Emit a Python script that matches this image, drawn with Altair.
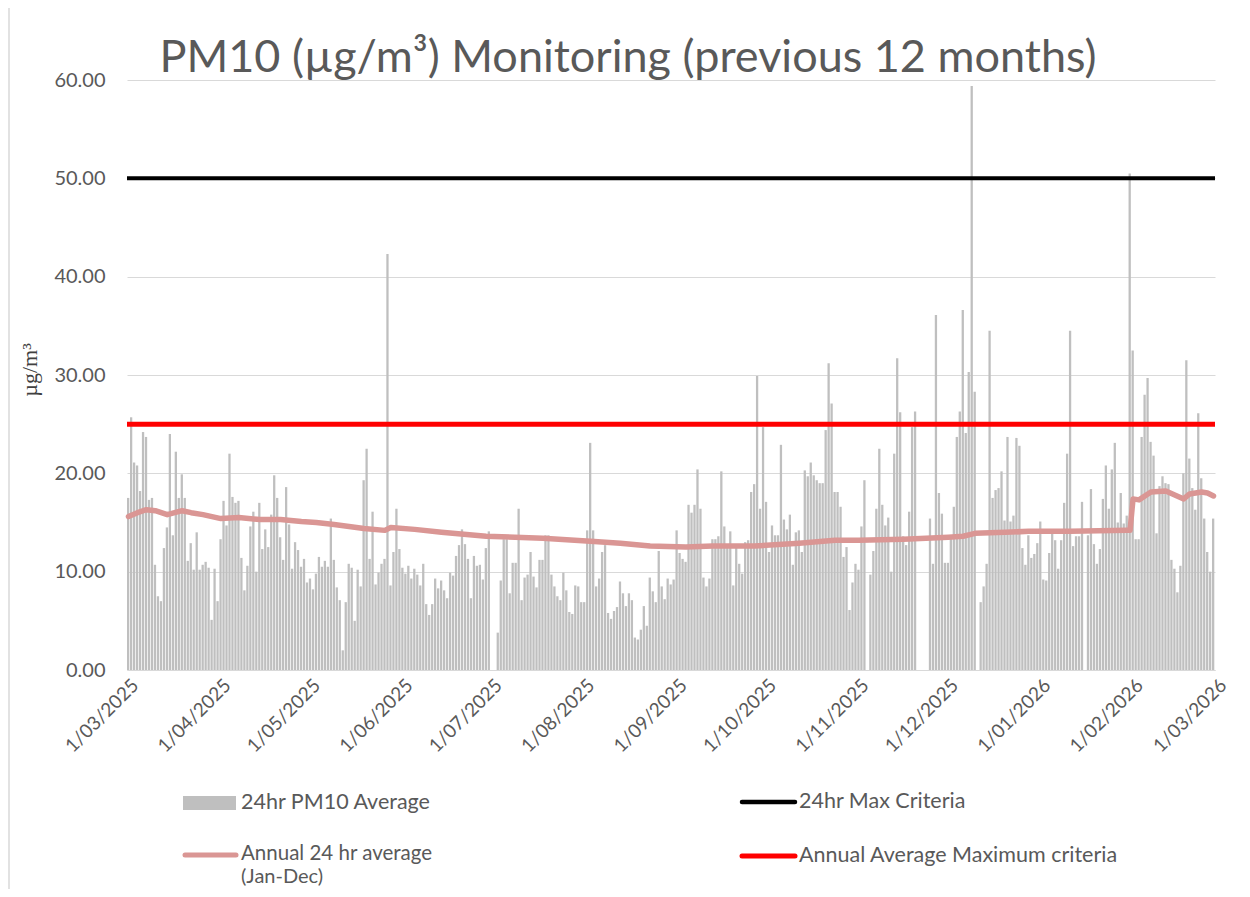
import altair as alt
import pandas as pd

# ---- daily 24hr PM10 averages (µg/m³), one value per day ----
mar_2025 = [17.5, 25.7, 21.1, 20.8, 18.2, 24.2, 23.7, 17.3, 17.5, 10.7, 7.5, 7.0, 12.4, 14.5, 24.0, 13.7,
            22.2, 17.5, 19.9, 17.5, 11.1, 12.9, 10.2, 14.0, 10.2, 10.7, 11.0, 10.4, 5.1, 10.3, 7.0]
apr_2025 = [13.3, 17.2, 14.7, 22.0, 17.6, 17.0, 17.2, 11.4, 8.1, 10.6, 14.6, 16.1, 10.0, 17.0, 12.3,
            14.3, 12.5, 15.8, 19.8, 17.5, 13.5, 11.2, 18.6, 14.8, 10.3, 13.0, 12.2, 10.5, 11.3, 8.9]
may_2025 = [9.3, 8.2, 9.8, 11.5, 10.5, 11.1, 10.5, 15.4, 11.2, 8.4, 7.1, 2.0, 6.9, 10.8, 10.4, 5.0,
            10.2, 8.5, 19.3, 22.5, 11.3, 16.1, 8.7, 9.9, 10.8, 11.3, 42.3, 8.6, 12.0, 16.4, 12.3]
jun_2025 = [10.4, 9.8, 10.6, 9.3, 10.3, 9.7, 8.6, 10.8, 6.7, 5.6, 6.7, 9.3, 8.3, 9.1, 8.1, 7.3, 9.9,
            9.6, 11.6, 12.7, 14.3, 12.8, 11.3, 7.3, 11.6, 10.6, 10.7, 9.2, 12.4, 14.1]
jul_2025 = [None, None, 3.8, 9.1, 13.3, 13.3, 7.8, 10.9, 10.9, 16.4, 7.1, 9.4, 9.7, 12.0, 9.5, 8.4,
            11.2, 11.2, 13.7, 13.7, 9.7, 8.5, 7.5, 7.1, 9.9, 8.1, 5.9, 5.7, 8.6, 8.5, 6.9]
aug_2025 = [6.9, 14.2, 23.1, 14.2, 8.5, 9.3, 12.0, 12.7, 5.8, 5.2, 6.0, 6.4, 9.0, 7.8, 6.5, 7.8, 7.1,
            3.3, 3.1, 4.1, 6.5, 4.5, 9.4, 8.0, 6.9, 12.1, 8.5, 7.2, 9.3, 8.7, 9.2]
sep_2025 = [14.2, 11.9, 11.3, 11.0, 16.8, 16.0, 16.8, 20.4, 16.4, 9.4, 8.5, 9.3, 13.3, 13.3, 13.6,
            20.2, 14.6, 12.5, 14.1, 8.6, 12.5, 10.8, 9.8, 13.0, 13.2, 18.1, 18.9, 29.9, 16.4, 24.7]
oct_2025 = [17.1, 12.0, 14.7, 13.7, 13.7, 22.9, 15.3, 14.3, 15.8, 10.7, 14.0, 14.2, 12.0, 20.3, 19.7,
            21.1, 19.8, 19.3, 19.0, 19.0, 24.4, 31.2, 27.1, 18.1, 18.1, 16.6, 11.5, 12.5, 6.1, 8.9, 10.8]
nov_2025 = [10.2, 14.6, 19.3, None, 9.7, 12.1, 16.4, 22.5, 16.8, 14.7, 15.5, 10.0, 22.0, 31.7, 26.2,
            13.6, 12.7, 16.1, 24.7, 26.3, None, None, None, None, 15.4, 10.8, 36.1, 18.0, 15.9, 10.9]
dec_2025 = [10.9, 13.5, 16.6, 23.7, 26.3, 36.6, 24.1, 30.3, 59.4, 28.3, None, 6.9, 8.5, 10.8, 34.5,
            17.5, 18.3, 18.5, 20.2, 15.2, 23.7, 15.1, 15.7, 23.6, 22.8, 12.4, 10.7, 13.7, 11.4, 11.8, 12.9]
jan_2026 = [15.1, 9.2, 9.1, 11.9, 14.2, 13.2, 10.3, 13.2, 17.0, 22.0, 34.5, 12.6, 13.6, 13.6, 17.1,
            None, 13.7, 18.4, 12.8, 10.8, 12.3, 17.4, 20.8, 16.4, 20.4, 23.1, 15.0, 18.0, 14.9, 15.7, 50.5]
feb_2026 = [32.5, 13.3, 13.3, 23.7, 28.0, 29.7, 23.2, 21.8, 13.9, 18.7, 19.7, 19.0, 18.9, 11.2, 10.3,
            7.9, 10.6, 20.0, 31.5, 21.5, 18.5, 16.3, 26.1, 19.5, 15.4, 12.0, 10.0, 15.4]

# ---- annual 24 hr average (Jan-Dec) line, read at points along the curve ----
avg_dates = ["2025-03-01", "2025-03-04", "2025-03-07", "2025-03-10", "2025-03-14", "2025-03-19",
             "2025-03-22", "2025-03-26", "2025-04-01", "2025-04-07", "2025-04-14", "2025-04-21",
             "2025-04-28", "2025-05-03", "2025-05-09", "2025-05-19", "2025-05-26", "2025-05-28",
             "2025-06-05", "2025-06-14", "2025-06-29", "2025-07-18", "2025-08-03", "2025-08-13",
             "2025-08-23", "2025-09-04", "2025-09-13", "2025-09-27", "2025-10-12", "2025-10-24",
             "2025-11-01", "2025-11-16", "2025-12-01", "2025-12-06", "2025-12-10", "2025-12-20",
             "2025-12-28", "2026-01-11", "2026-01-30", "2026-01-31", "2026-02-01", "2026-02-03",
             "2026-02-07", "2026-02-12", "2026-02-15", "2026-02-18", "2026-02-20", "2026-02-24",
             "2026-02-26", "2026-02-28"]
avg_values = [15.6, 16.0, 16.3, 16.2, 15.8, 16.2, 16.0, 15.8, 15.4, 15.5, 15.3, 15.3, 15.1, 15.0,
              14.8, 14.4, 14.2, 14.5, 14.3, 14.0, 13.6, 13.4, 13.1, 12.9, 12.6, 12.5, 12.6, 12.6,
              12.9, 13.2, 13.2, 13.3, 13.5, 13.6, 13.9, 14.0, 14.1, 14.1, 14.2, 14.2, 17.4, 17.3,
              18.1, 18.2, 17.8, 17.4, 17.9, 18.1, 18.0, 17.7]

max_24hr_criteria = [50]
annual_max_criteria = [25]

month_ticks = [(2025, m) for m in range(3, 13)] + [(2026, 1), (2026, 2), (2026, 3)]
y_ticks = [0, 10, 20, 30, 40, 50, 60]

TITLE = "PM10 (µg/m³) Monitoring (previous 12 months)"
Y_TITLE = "µg/m³"
GREY_TXT = "#595959"
FONT = "Lato"

daily = (mar_2025 + apr_2025 + may_2025 + jun_2025 + jul_2025 + aug_2025 + sep_2025 + oct_2025
         + nov_2025 + dec_2025 + jan_2026 + feb_2026)
days = pd.date_range("2025-03-01", periods=len(daily), freq="D")
bars_df = pd.DataFrame({
    "start": days.strftime("%Y-%m-%dT00:00:00"),
    "end": (days + pd.Timedelta(days=1)).strftime("%Y-%m-%dT00:00:00"),
    "pm10": daily,
})
avg_df = pd.DataFrame({"start": [d + "T12:00:00" for d in avg_dates], "pm10": avg_values})

x_domain = [alt.DateTime(year=2025, month=3, date=1), alt.DateTime(year=2026, month=3, date=1)]
x_scale = alt.Scale(domain=x_domain)
y_scale = alt.Scale(domain=[0, 60])

x_axis = alt.Axis(values=[alt.DateTime(year=y, month=m, date=1) for y, m in month_ticks],
                  format="%-d/%m/%Y", labelAngle=-45, labelAlign="right",
                  labelBaseline="middle", labelPadding=12, labelOffset=8, labelFontSize=19,
                  labelColor=GREY_TXT, labelFont=FONT, ticks=False, grid=False,
                  domain=True, domainColor="#d9d9d9", domainWidth=1,
                  labelOverlap=False, labelBound=False, labelFlush=False)
y_axis = alt.Axis(values=y_ticks, format=".2f", labelFontSize=20, labelColor=GREY_TXT,
                  labelFont=FONT, labelPadding=22, ticks=False, domain=False,
                  grid=True, gridColor="#d9d9d9", gridWidth=1)


def X(field):
    return alt.X(field, scale=x_scale, axis=x_axis, title=None)


def Y(field):
    return alt.Y(field, scale=y_scale, axis=y_axis, title=None)


bars = alt.Chart(bars_df).mark_bar(color="#bfbfbf", x2Offset=-0.7).encode(
    x=X("start:T"), x2="end:T", y=Y("pm10:Q"), y2=alt.datum(0),
)

avg_line = alt.Chart(avg_df).mark_line(color="#da9694", strokeWidth=5.5, strokeCap="round",
                                       strokeJoin="round").encode(
    x=X("start:T"), y=Y("pm10:Q"),
)

black_rule = alt.Chart(pd.DataFrame({"pm10": max_24hr_criteria})).mark_rule(
    color="#000000", strokeWidth=4).encode(y=Y("pm10:Q"))
red_rule = alt.Chart(pd.DataFrame({"pm10": annual_max_criteria})).mark_rule(
    color="#ff0000", strokeWidth=5).encode(y=Y("pm10:Q"))

one = pd.DataFrame({"k": [0]})


def label(text, x, y, size=21.5, align="left"):
    return alt.Chart(one).mark_text(text=text, font=FONT, fontSize=size, color=GREY_TXT,
                                    align=align, baseline="middle").encode(
        x=alt.value(x), y=alt.value(y))


def swatch_line(color, x1, x2, y, w):
    return alt.Chart(one).mark_rule(color=color, strokeWidth=w, strokeCap="round").encode(
        x=alt.value(x1), x2=alt.value(x2), y=alt.value(y))


legend = [
    alt.Chart(one).mark_rect(color="#bfbfbf").encode(
        x=alt.value(56), x2=alt.value(109), y=alt.value(716), y2=alt.value(730)),
    label("24hr PM10 Average", 114, 723),
    swatch_line("#000000", 615, 668, 722, 4.5),
    label("24hr Max Criteria", 672, 722),
    swatch_line("#da9694", 58, 109, 775, 5),
    label("Annual 24 hr average", 114, 774, size=20.5),
    label("(Jan-Dec)", 114, 797, size=20),
    swatch_line("#ff0000", 615, 668, 776, 5),
    label("Annual Average Maximum criteria", 672, 776),
]

title = alt.Chart(one).mark_text(text=TITLE, font=FONT, fontSize=45, color=GREY_TXT,
                                 align="center", baseline="alphabetic").encode(
    x=alt.value(501), y=alt.value(-8))

y_title = alt.Chart(one).mark_text(text=Y_TITLE, font="Liberation Serif", fontSize=22,
                                   color="#404040", angle=270, align="center",
                                   baseline="middle").encode(
    x=alt.value(-97), y=alt.value(290))

border = alt.Chart(one).mark_rule(color="#d9d9d9", strokeWidth=1.5).encode(
    x=alt.value(-118), y=alt.value(-80), y2=alt.value(817))

chart = alt.layer(bars, avg_line, black_rule, red_rule, title, y_title, border, *legend).properties(
    width=1088, height=590,
    autosize=alt.AutoSizeParams(type="none"),
    padding={"left": 119, "top": 72, "right": 27, "bottom": 219},
).configure_view(stroke=None)

chart.save("out.html", embed_options={"renderer": "svg", "actions": False})
